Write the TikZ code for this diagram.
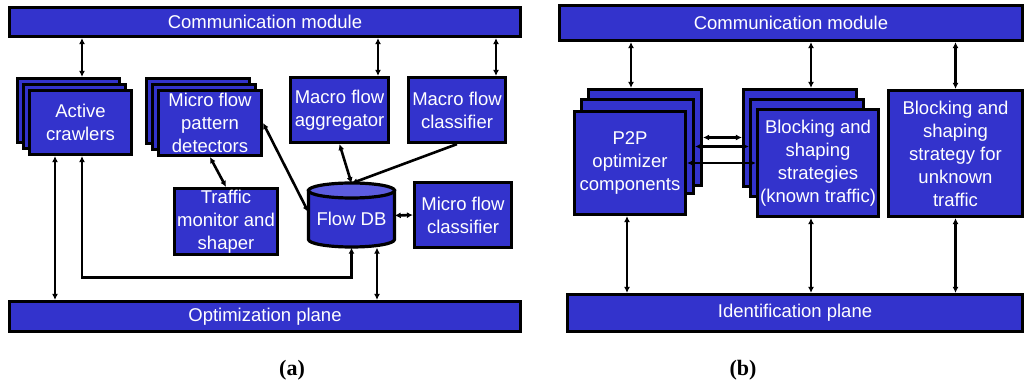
\documentclass[tikz,border=0pt]{standalone}
\usepackage{fontspec}
\setmainfont{Liberation Sans}
\newfontfamily\capfont{Liberation Serif}
\usetikzlibrary{arrows.meta,calc}
\definecolor{boxblue}{RGB}{51,51,204}
\definecolor{topblue}{RGB}{92,92,224}
\newcommand{\bxfont}{\fontsize{18.5}{23}\selectfont}
\tikzset{
  blk/.style={draw=black, line width=3.2pt, fill=boxblue, inner sep=0pt, text=white, font=\bxfont, align=center},
  dar/.style={line width=2.6pt, {Latex[length=6pt,width=6pt]}-{Latex[length=6pt,width=6pt]}},
  sar/.style={line width=2.6pt, -{Latex[length=6pt,width=6pt]}},
  captext/.style={font=\capfont\fontsize{22}{24}\selectfont\bfseries, inner sep=0pt}
}
\begin{document}
\begin{tikzpicture}[x=1pt,y=-1pt]
\useasboundingbox (0,0) rectangle (1026,387);

% ---------- panel (a) ----------
\node[blk, minimum width=511, minimum height=29] (cmA) at (265,22) {Communication module};
\node[blk, minimum width=511, minimum height=30] (opA) at (265,316.5) {Optimization plane};

\node[blk, minimum width=102, minimum height=64] (ac3) at (68.5,110.5) {};
\node[blk, minimum width=102, minimum height=64] (ac2) at (74.5,116.5) {};
\node[blk, minimum width=102, minimum height=64] (ac1) at (80.5,122.5) {Active\\crawlers};

\node[blk, minimum width=103, minimum height=65] (md3) at (198,111) {};
\node[blk, minimum width=103, minimum height=65] (md2) at (204,117) {};
\node[blk, minimum width=103, minimum height=65] (md1) at (210,123) {Micro flow\\pattern\\detectors};

\node[blk, minimum width=98, minimum height=65] (ag) at (339.5,110) {Macro flow\\aggregator};
\node[blk, minimum width=97, minimum height=65] (mc) at (457,110) {Macro flow\\classifier};
\node[blk, minimum width=103, minimum height=66] (tm) at (226,221.5) {Traffic\\monitor and\\shaper};
\node[blk, minimum width=97, minimum height=65] (mic) at (463,215) {Micro flow\\classifier};

% Flow DB cylinder
\filldraw[fill=boxblue, line width=3.2pt] (308.5,190.5) -- (308.5,239.5)
  arc[start angle=180, end angle=0, x radius=43, y radius=7.5] -- (394.5,190.5) -- cycle;
\filldraw[fill=topblue, line width=3.2pt] (351.5,190.5) ellipse[x radius=43, y radius=7.5];
\node[inner sep=0pt, minimum width=86, minimum height=64] (db) at (351.5,215.5) {};
\node[text=white, font=\bxfont, inner sep=0pt] (dbtext) at ($(db.center)+(0,3)$) {Flow DB};

% connectors (a)
\draw[dar] ($(ac3.north)+(13.5,0)$) -- ($(ac3.north |- cmA.south)+(13.5,0)$);
\draw[dar] ($(ag.north)+(38.5,0)$) -- ($(ag.north |- cmA.south)+(38.5,0)$);
\draw[dar] ($(mc.north)+(39,0)$) -- ($(mc.north |- cmA.south)+(39,0)$);
\draw[dar] (ag.south) -- (db.north);
\draw[sar] (mc.south) -- (db.north);
\draw[dar] (md1.south) -- (tm.north);
\draw[dar] (md1.east) -- ($(db.west)+(0,-3.5)$);
\draw[dar] (db.east) -- (mic.west);
\draw[dar] ($(ac1.south)+(-25.5,0)$) -- ($(ac1.south |- opA.north)+(-25.5,0)$);
\draw[dar] ($(ac1.south)+(1.5,0)$) |- ($(db.south)+(0,30)$) -- (db.south);
\draw[dar] ($(db.south)+(25.5,0)$) -- ($(db.south |- opA.north)+(25.5,0)$);

\node[captext] (capa) at (292,370) {(a)};

% ---------- panel (b) ----------
\node[blk, minimum width=463, minimum height=35] (cmB) at (791,23) {Communication module};
\node[blk, minimum width=455, minimum height=37] (idB) at (795,313) {Identification plane};

\node[blk, minimum width=113, minimum height=96] (p3) at (645,137.5) {};
\node[blk, minimum width=112, minimum height=94] (p2) at (637.5,146.5) {};
\node[blk, minimum width=111, minimum height=103] (p1) at (630,163) {P2P\\optimizer\\components};

\node[blk, minimum width=113, minimum height=97] (k3) at (800,138) {};
\node[blk, minimum width=113, minimum height=97] (k2) at (807,148) {};
\node[blk, minimum width=121, minimum height=107] (k1) at (818,163) {Blocking and\\shaping\\strategies\\(known traffic)};

\node[blk, minimum width=134, minimum height=126] (unk) at (955.5,153.5) {Blocking and\\shaping\\strategy for\\unknown\\traffic};

% connectors (b)
\draw[dar] ($(p3.north)+(-14,0)$) -- ($(p3.north |- cmB.south)+(-14,0)$);
\draw[dar] ($(k3.north)+(11,0)$) -- ($(k3.north |- cmB.south)+(11,0)$);
\draw[dar] (unk.north) -- (unk.north |- cmB.south);
\draw[dar] ($(p1.south)+(-3,0)$) -- ($(p1.south |- idB.north)+(-3,0)$);
\draw[dar] ($(k1.south)+(-7,0)$) -- ($(k1.south |- idB.north)+(-7,0)$);
\draw[dar] (unk.south) -- (unk.south |- idB.north);
\draw[dar] (p3.east) -- (p3.east -| k3.west);
\draw[dar] (p2.east) -- (p2.east -| k2.west);
\draw[dar] (p1.east) -- (p1.east -| k1.west);

\node[captext] (capb) at (743,370) {(b)};
\end{tikzpicture}
\end{document}
